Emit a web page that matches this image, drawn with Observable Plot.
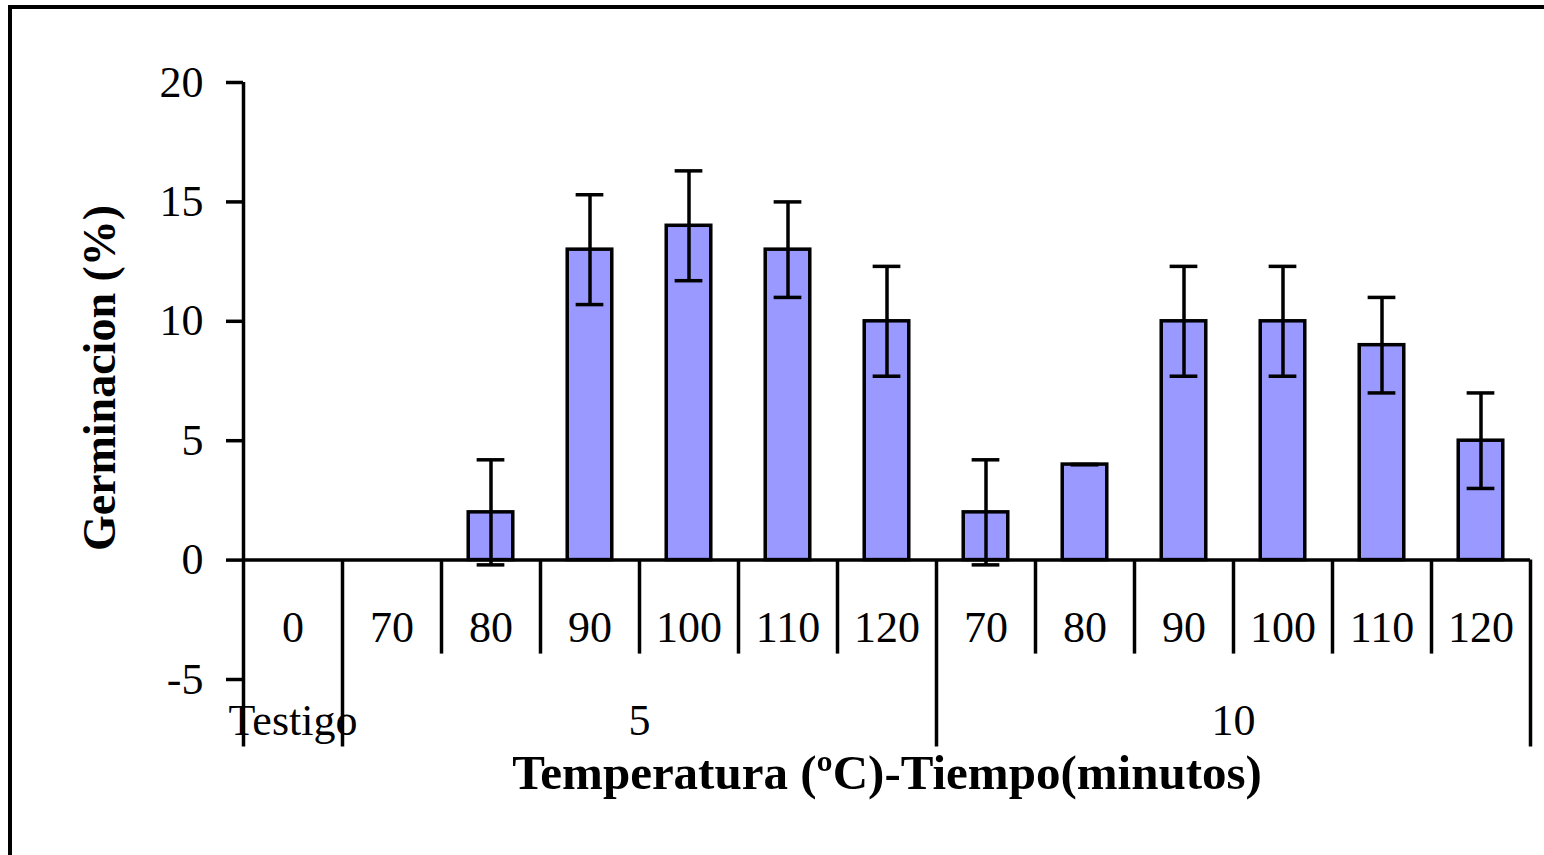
<!DOCTYPE html>
<html><head><meta charset="utf-8">
<script src="https://cdn.jsdelivr.net/npm/d3@7"></script>
<script src="https://cdn.jsdelivr.net/npm/@observablehq/plot@0.6"></script>
<style>
body{margin:0;background:#fff}
#wrap{position:relative;width:1544px;height:855px;overflow:hidden;background:#fff}
#frame{position:absolute;left:8px;top:5px;width:1600px;height:900px;border-left:4px solid #000;border-top:4px solid #000;pointer-events:none}
</style>
</head><body><div id="wrap"><div id="frame"></div></div>
<script>
// ---- data ----
const tiempos = ["0","70","80","90","100","110","120","70","80","90","100","110","120"];
const grupoDe = ["Testigo","5","5","5","5","5","5","10","10","10","10","10","10"];
const germinacion = [0,0,2,13,14,13,10,2,4,10,10,9,5];
const errorEst = [0,0,2.2,2.3,2.3,2.0,2.3,2.2,0,2.3,2.3,2.0,2.0];
const grupos = ["Testigo","5","10"];
const yTicks = [-5,0,5,10,15,20];
const yLabel = "Germinacion (%)";
const xLabel = "Temperatura (ºC)-Tiempo(minutos)";

// ---- layout ----
const W = 1544, H = 855, ML = 243, MR = 14, MT = 82, MB = 176;
const yDomain = [-5, 20];
const pxPerUnit = (H - MT - MB) / (yDomain[1] - yDomain[0]);
const tickLen = 94 / pxPerUnit;     // short category separators below zero
const groupLen = 187 / pxPerUnit;   // long group separators
const pad = 0.275, capHalf = 0.14;
const ink = "#000";
const sw = 3.5;
const fs = 44;

const rows = tiempos.map((t, i) => ({i, tiempo: t, grupo: grupoDe[i], v: germinacion[i], e: errorEst[i]}));
const errRows = rows.filter(d => d.v > 0);

const spans = grupos.map(g => {
  const idx = rows.filter(d => d.grupo === g).map(d => d.i);
  return {grupo: g, start: d3.min(idx), end: d3.max(idx) + 1};
});
const groupEdges = Array.from(new Set(spans.flatMap(s => [s.start, s.end])));
const innerEdges = d3.range(1, tiempos.length).filter(b => !groupEdges.includes(b));

const chart = Plot.plot({
  width: W, height: H,
  marginLeft: ML, marginRight: MR, marginTop: MT, marginBottom: MB,
  style: {fontFamily: "'Liberation Serif', 'Times New Roman', serif", fontSize: fs + "px", background: "transparent", color: ink},
  x: {type: "linear", domain: [0, tiempos.length], axis: null},
  y: {domain: yDomain, axis: null},
  marks: [
    Plot.rect(rows, {x1: d => d.i + pad, x2: d => d.i + 1 - pad, y1: 0, y2: "v", fill: "#9999ff", stroke: ink, strokeWidth: sw}),
    Plot.ruleX(errRows, {x: d => d.i + 0.5, y1: d => d.v - d.e, y2: d => d.v + d.e, stroke: ink, strokeWidth: sw}),
    Plot.ruleY(errRows, {y: d => d.v + d.e, x1: d => d.i + 0.5 - capHalf, x2: d => d.i + 0.5 + capHalf, stroke: ink, strokeWidth: sw}),
    Plot.ruleY(errRows, {y: d => d.v - d.e, x1: d => d.i + 0.5 - capHalf, x2: d => d.i + 0.5 + capHalf, stroke: ink, strokeWidth: sw}),
    Plot.ruleY([0], {stroke: ink, strokeWidth: sw}),
    Plot.ruleX(innerEdges, {y1: 0, y2: -tickLen, stroke: ink, strokeWidth: sw}),
    Plot.ruleX(groupEdges.filter(b => b !== 0), {y1: 0, y2: -groupLen, stroke: ink, strokeWidth: sw}),
    Plot.ruleX([0], {y1: yDomain[1], y2: -groupLen, stroke: ink, strokeWidth: sw}),
    Plot.axisY(yTicks, {tickSize: 17, tickPadding: 23, fontSize: fs, stroke: ink, strokeWidth: sw, fill: ink, label: null, tickFormat: d => String(d)}),
    Plot.text(rows, {x: d => d.i + 0.5, y: 0, dy: 68, text: "tiempo", fontSize: fs, fill: ink}),
    Plot.text(spans, {x: d => (d.start + d.end) / 2, y: 0, dy: 161, text: "grupo", fontSize: fs, fill: ink}),
    Plot.text([xLabel], {frameAnchor: "bottom", dy: 109, fontSize: 49, fontWeight: "bold", fill: ink}),
    Plot.text([yLabel], {frameAnchor: "left", textAnchor: "middle", dx: -143, dy: -3, rotate: -90, fontSize: 46, fontWeight: "bold", fill: ink})
  ]
});
document.getElementById("wrap").insertBefore(chart, document.getElementById("frame"));
</script>
</body></html>
